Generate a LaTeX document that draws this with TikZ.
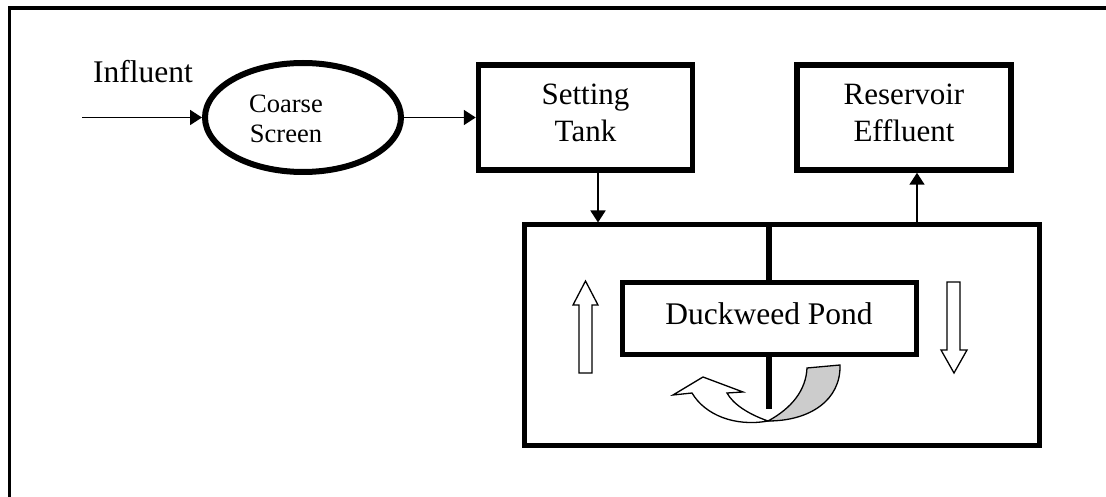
\documentclass[tikz,border=0pt]{standalone}
\usepackage{fontspec}
\setmainfont{Liberation Serif}
\usetikzlibrary{arrows.meta}
\usetikzlibrary{shapes.geometric}

\begin{document}
\begin{tikzpicture}[x=1pt,y=-1pt,
  tank/.style={draw, line width=5.5pt, minimum width=214pt, minimum height=105pt, align=center,
    text height=58pt, text depth=10pt, font=\fontsize{31}{37}\selectfont},
  flow/.style={line width=1.8pt, -{Triangle[length=12pt,width=15pt]}},
  hollow/.style={draw, fill=white, line width=1.3pt, line join=miter}]
\useasboundingbox (0,0) rectangle (1106,497);
% frame
\draw[line width=3.5pt] (9.5,497) -- (9.5,8) -- (1106,8);

\node[anchor=base west, inner sep=0, font=\fontsize{31.5}{37}\selectfont] (influent) at (93,83) {Influent};
\coordinate (inflow) at (82,117.5);
\node[ellipse, draw, line width=6pt, minimum width=196pt, minimum height=109pt] (screen) at (303,117.5) {};
\node[align=center, font=\fontsize{26.5}{30}\selectfont] (screentext) at (286,119) {Coarse\\Screen};
\node[tank] (setting) at (585.5,117.5) {Setting\\Tank};
\node[tank] (reservoir) at (904,117.5) {Reservoir\\Effluent};

% pond with baffle
\node[draw, line width=5pt, minimum width=515pt, minimum height=220pt] (basin) at (781.5,335) {};
\node[draw, line width=5pt, minimum width=294pt, minimum height=72pt, text height=21pt, text depth=9pt,
  font=\fontsize{31.5}{37}\selectfont] (pond) at (769,318) {Duckweed Pond};
\draw[line width=6pt] (pond.north |- basin.north) -- (pond.north);
\draw[line width=6pt] (pond.south) -- ++(0,52);

\draw[flow] (inflow) -- (screen.west);
\draw[flow] (screen.east) -- (setting.west);
\draw[flow] ([xshift=12.5pt]setting.south) -- ([xshift=12.5pt]setting.south |- basin.north);
\draw[flow] ([xshift=13pt]reservoir.south |- basin.north) -- ([xshift=13pt]reservoir.south);

% flow direction
\draw[hollow] (579,373) -- (579,305) -- (573,305) -- (585.5,281) -- (598,305) -- (592,305) -- (592,373) -- cycle;
\draw[hollow] (947,282) -- (947,350) -- (941,350) -- (954,373) -- (967,350) -- (960,350) -- (960,282) -- cycle;
\draw[hollow] (727,393) -- (743,392) -- (703,377) -- (673,395) -- (692,393)
  .. controls (705,415) and (735,427) .. (768,421)
  .. controls (748,414) and (733,404) .. (727,393) -- cycle;
\draw[hollow, fill=black!20] (768,421) .. controls (792,408) and (806,390) .. (807,368)
  -- (840,365) .. controls (841,400) and (810,421) .. (768,421) -- cycle;
\end{tikzpicture}
\end{document}
